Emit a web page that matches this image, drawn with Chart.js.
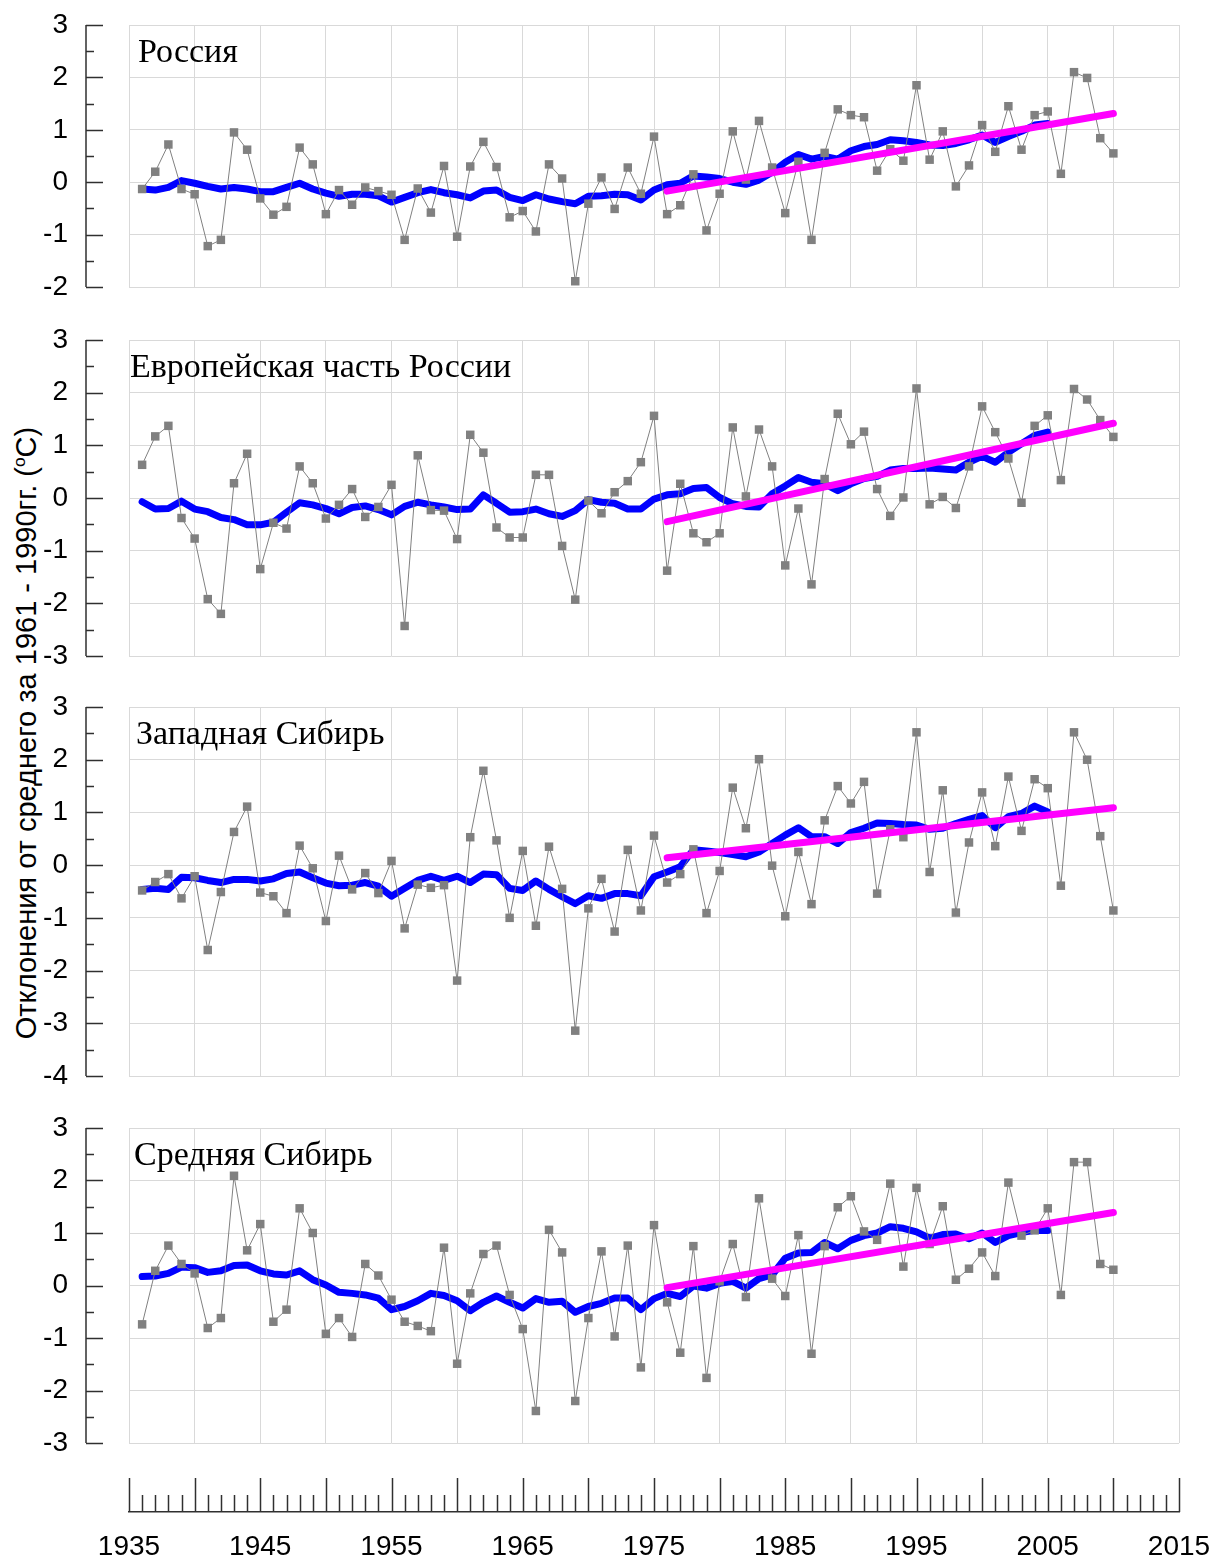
<!DOCTYPE html>
<html>
<head>
<meta charset="utf-8">
<script src="https://cdn.jsdelivr.net/npm/chart.js@4.4.0/dist/chart.umd.min.js"></script>
<style>
  body { margin: 0; background: #fff; width: 1216px; height: 1562px; position: relative; overflow: hidden; }
  canvas { position: absolute; left: 0; }
  .title { position: absolute; font-family: "Liberation Serif", "Times New Roman", serif; font-size: 34px; line-height: 34px; color: #000; white-space: nowrap; }
  #ylabel { position: absolute; width: 700px; height: 30px; line-height: 30px; text-align: center;
            font-family: "Liberation Sans", Arial, sans-serif; font-size: 29px; color: #000; white-space: nowrap;
            transform: rotate(-90deg); transform-origin: 50% 50%; }
  #ylabel sup { font-size: 0.6em; }
</style>
</head>
<body>
<div id="ylabel">Отклонения от среднего за 1961 - 1990гг. (<sup>o</sup>C)</div>
<script>
// years of the annual series and of the smoothed curve
const years = Array.from({ length: 75 }, (_, i) => 1936 + i);   // 1936..2010
const smoothYears = years.slice(0, 70);                          // 1936..2005
const trendYears = [1976, 2010];
const axisYears = [1935, 2015];

// Россия
const russiaAnnual = [
  -0.13, 0.20, 0.72, -0.13, -0.23, -1.22, -1.10, 0.95, 0.62, -0.31,
  -0.62, -0.47, 0.66, 0.34, -0.61, -0.15, -0.43, -0.10, -0.17, -0.24,
  -1.10, -0.12, -0.58, 0.31, -1.04, 0.30, 0.77, 0.29, -0.67, -0.55,
  -0.94, 0.34, 0.07, -1.89, -0.41, 0.09, -0.51, 0.28, -0.22, 0.87,
  -0.61, -0.44, 0.15, -0.92, -0.22, 0.97, 0.05, 1.17, 0.28, -0.59,
  0.39, -1.10, 0.56, 1.39, 1.28, 1.24, 0.22, 0.63, 0.41, 1.85,
  0.43, 0.97, -0.08, 0.32, 1.09, 0.58, 1.45, 0.62, 1.28, 1.35,
  0.16, 2.10, 1.99, 0.84, 0.55
];
const russiaSmooth = [
  -0.13, -0.15, -0.10, 0.03, -0.02, -0.08, -0.13, -0.10, -0.13, -0.18,
  -0.18, -0.10, -0.02, -0.13, -0.21, -0.27, -0.23, -0.23, -0.26, -0.38,
  -0.29, -0.20, -0.14, -0.20, -0.24, -0.30, -0.17, -0.15, -0.29, -0.35,
  -0.24, -0.32, -0.37, -0.41, -0.27, -0.26, -0.23, -0.24, -0.34, -0.15,
  -0.05, -0.02, 0.12, 0.10, 0.07, 0.00, -0.04, 0.04, 0.19, 0.38,
  0.53, 0.44, 0.49, 0.44, 0.60, 0.68, 0.72, 0.81, 0.79, 0.76,
  0.71, 0.70, 0.74, 0.81, 0.90, 0.76, 0.87, 0.97, 1.09, 1.12
];
const russiaTrend = [-0.17, 1.31];

// Европейская часть России
const europeAnnual = [
  0.63, 1.17, 1.37, -0.38, -0.77, -1.92, -2.20, 0.28, 0.84, -1.35,
  -0.47, -0.58, 0.60, 0.28, -0.39, -0.13, 0.17, -0.36, -0.17, 0.25,
  -2.43, 0.81, -0.23, -0.24, -0.78, 1.20, 0.86, -0.56, -0.75, -0.75,
  0.44, 0.44, -0.91, -1.93, -0.05, -0.29, 0.11, 0.32, 0.68, 1.56,
  -1.38, 0.27, -0.67, -0.84, -0.67, 1.34, 0.03, 1.30, 0.60, -1.28,
  -0.20, -1.64, 0.36, 1.60, 1.02, 1.26, 0.17, -0.34, 0.01, 2.08,
  -0.12, 0.02, -0.19, 0.60, 1.74, 1.25, 0.75, -0.09, 1.37, 1.57,
  0.34, 2.07, 1.87, 1.48, 1.16
];
const europeSmooth = [
  -0.07, -0.21, -0.20, -0.06, -0.21, -0.26, -0.37, -0.41, -0.51, -0.51,
  -0.46, -0.27, -0.09, -0.13, -0.20, -0.30, -0.18, -0.15, -0.22, -0.32,
  -0.16, -0.08, -0.13, -0.17, -0.22, -0.21, 0.06, -0.10, -0.27, -0.26,
  -0.21, -0.30, -0.35, -0.24, -0.03, -0.08, -0.10, -0.21, -0.21, -0.02,
  0.06, 0.08, 0.18, 0.20, 0.01, -0.11, -0.16, -0.17, 0.08, 0.23,
  0.39, 0.30, 0.27, 0.14, 0.27, 0.37, 0.41, 0.53, 0.56, 0.56,
  0.57, 0.55, 0.53, 0.68, 0.79, 0.68, 0.87, 1.03, 1.19, 1.25
];
const europeTrend = [-0.45, 1.42];

// Западная Сибирь
const westSibAnnual = [
  -0.48, -0.32, -0.17, -0.63, -0.21, -1.61, -0.51, 0.63, 1.11, -0.52,
  -0.59, -0.91, 0.37, -0.06, -1.06, 0.18, -0.46, -0.15, -0.53, 0.08,
  -1.20, -0.37, -0.43, -0.38, -2.19, 0.53, 1.79, 0.47, -1.00, 0.27,
  -1.15, 0.35, -0.45, -3.14, -0.82, -0.26, -1.26, 0.29, -0.86, 0.56,
  -0.33, -0.17, 0.30, -0.91, -0.11, 1.47, 0.70, 2.01, -0.01, -0.97,
  0.25, -0.74, 0.85, 1.50, 1.17, 1.58, -0.54, 0.68, 0.53, 2.52,
  -0.13, 1.42, -0.90, 0.43, 1.38, 0.36, 1.68, 0.65, 1.63, 1.46,
  -0.39, 2.52, 2.00, 0.55, -0.86
];
const westSibSmooth = [
  -0.46, -0.44, -0.46, -0.23, -0.24, -0.29, -0.33, -0.27, -0.27, -0.30,
  -0.26, -0.16, -0.13, -0.24, -0.34, -0.39, -0.38, -0.33, -0.40, -0.59,
  -0.44, -0.29, -0.21, -0.29, -0.21, -0.33, -0.17, -0.18, -0.44, -0.48,
  -0.30, -0.46, -0.60, -0.73, -0.58, -0.63, -0.54, -0.54, -0.58, -0.22,
  -0.13, -0.03, 0.29, 0.27, 0.24, 0.20, 0.16, 0.25, 0.41, 0.57,
  0.71, 0.54, 0.54, 0.41, 0.62, 0.70, 0.80, 0.79, 0.77, 0.76,
  0.68, 0.70, 0.79, 0.87, 0.94, 0.71, 0.92, 0.98, 1.12, 1.01
];
const westSibTrend = [0.14, 1.09];

// Средняя Сибирь
const midSibAnnual = [
  -0.74, 0.28, 0.76, 0.41, 0.23, -0.81, -0.62, 2.09, 0.67, 1.17,
  -0.69, -0.46, 1.47, 1.00, -0.92, -0.62, -0.98, 0.41, 0.19, -0.27,
  -0.69, -0.77, -0.87, 0.72, -1.49, -0.15, 0.60, 0.76, -0.18, -0.83,
  -2.39, 1.06, 0.63, -2.20, -0.62, 0.65, -0.97, 0.76, -1.56, 1.15,
  -0.32, -1.28, 0.75, -1.76, 0.08, 0.79, -0.22, 1.66, 0.13, -0.20,
  0.96, -1.30, 0.75, 1.49, 1.70, 1.03, 0.87, 1.94, 0.36, 1.86,
  0.79, 1.51, 0.11, 0.32, 0.63, 0.18, 1.96, 0.95, 1.05, 1.47,
  -0.18, 2.35, 2.35, 0.41, 0.30
];
const midSibSmooth = [
  0.17, 0.18, 0.23, 0.35, 0.34, 0.25, 0.28, 0.38, 0.39, 0.28,
  0.22, 0.20, 0.28, 0.11, 0.01, -0.13, -0.15, -0.18, -0.24, -0.46,
  -0.40, -0.29, -0.15, -0.19, -0.29, -0.48, -0.32, -0.20, -0.32, -0.43,
  -0.25, -0.32, -0.30, -0.51, -0.40, -0.34, -0.24, -0.24, -0.46, -0.25,
  -0.15, -0.21, -0.01, -0.05, 0.04, 0.08, -0.05, 0.13, 0.20, 0.52,
  0.62, 0.63, 0.82, 0.70, 0.86, 0.95, 1.00, 1.12, 1.09, 1.02,
  0.90, 0.97, 0.98, 0.89, 1.00, 0.82, 0.95, 1.01, 1.05, 1.05
];
const midSibTrend = [-0.04, 1.39];

const panels = [
  { title: 'Россия', annual: russiaAnnual, smooth: russiaSmooth, trend: russiaTrend, min: -2, max: 3, top: 25, bottom: 287, titleX: 138 },
  { title: 'Европейская часть России', annual: europeAnnual, smooth: europeSmooth, trend: europeTrend, min: -3, max: 3, top: 340, bottom: 656, titleX: 130 },
  { title: 'Западная Сибирь', annual: westSibAnnual, smooth: westSibSmooth, trend: westSibTrend, min: -4, max: 3, top: 707, bottom: 1076, titleX: 136 },
  { title: 'Средняя Сибирь', annual: midSibAnnual, smooth: midSibSmooth, trend: midSibTrend, min: -3, max: 3, top: 1128, bottom: 1443, titleX: 134 }
];

const PAD = 20;
const PLOT_LEFT = 129;
const PLOT_RIGHT = 1179;
const AXIS_X = 86;
const tickFont = { family: 'Liberation Sans', size: 28 };

Chart.defaults.font.family = 'Liberation Sans';

function toXY(xs, ys) {
  return ys.map((y, i) => ({ x: xs[i], y: y }));
}

// y axis drawn apart from the plot, with ticks pointing to the right
const sideAxis = {
  id: 'sideAxis',
  afterDraw(chart) {
    const ys = chart.scales.y;
    const ctx = chart.ctx;
    ctx.save();
    ctx.strokeStyle = '#303030';
    ctx.lineWidth = 1.5;
    ctx.beginPath();
    ctx.moveTo(AXIS_X, ys.getPixelForValue(ys.max));
    ctx.lineTo(AXIS_X, ys.getPixelForValue(ys.min));
    for (let v = ys.min; v <= ys.max; v += 0.5) {
      const py = Math.round(ys.getPixelForValue(v)) + 0.5;
      ctx.moveTo(AXIS_X, py);
      ctx.lineTo(AXIS_X + (Number.isInteger(v) ? 17 : 8), py);
    }
    ctx.stroke();
    ctx.restore();
  }
};

// year ticks standing up from the bottom axis line
const yearTicks = {
  id: 'yearTicks',
  afterDraw(chart) {
    const xs = chart.scales.x;
    const ctx = chart.ctx;
    const base = chart.chartArea.bottom;
    ctx.save();
    ctx.strokeStyle = '#303030';
    ctx.lineWidth = 1.5;
    ctx.beginPath();
    xs.ticks.forEach(t => {
      const px = Math.round(xs.getPixelForValue(t.value)) + 0.5;
      ctx.moveTo(px, base);
      ctx.lineTo(px, base - (t.value % 5 === 0 ? 34 : 17));
    });
    ctx.stroke();
    ctx.restore();
  }
};

panels.forEach(p => {
  const canvas = document.createElement('canvas');
  const h = p.bottom - p.top + 2 * PAD;
  canvas.width = 1216;
  canvas.height = h;
  canvas.style.top = (p.top - PAD) + 'px';
  document.body.appendChild(canvas);

  new Chart(canvas, {
    type: 'line',
    data: {
      datasets: [
        {
          label: 'Тренд 1976-2010',
          data: toXY(trendYears, p.trend),
          borderColor: '#ff00ff',
          borderWidth: 7,
          borderCapStyle: 'round',
          pointRadius: 0
        },
        {
          label: 'Годовые аномалии',
          data: toXY(years, p.annual),
          borderColor: '#808080',
          borderWidth: 1,
          pointStyle: 'rect',
          pointRadius: 6,
          pointBackgroundColor: '#808080',
          pointBorderWidth: 0
        },
        {
          label: 'Сглаженные',
          data: toXY(smoothYears, p.smooth),
          borderColor: '#0000ff',
          borderWidth: 7,
          borderJoinStyle: 'round',
          borderCapStyle: 'round',
          pointRadius: 0
        }
      ]
    },
    options: {
      responsive: false,
      animation: false,
      events: [],
      layout: { padding: { top: PAD, bottom: PAD, left: 0, right: 1216 - PLOT_RIGHT } },
      plugins: { legend: { display: false }, tooltip: { enabled: false } },
      scales: {
        x: {
          type: 'linear',
          min: axisYears[0],
          max: axisYears[1],
          ticks: { display: false, stepSize: 5 },
          grid: { color: '#d9d9d9', drawTicks: false },
          border: { display: false },
          afterFit: s => { s.height = 0; s.paddingLeft = 0; s.paddingRight = 0; }
        },
        y: {
          min: p.min,
          max: p.max,
          ticks: { stepSize: 1, color: '#000', font: tickFont, padding: 61 },
          grid: { color: '#d9d9d9', drawTicks: false },
          border: { display: false },
          // keep the label offset from pushing the plot area down
          afterFit: s => { s.width = PLOT_LEFT; s.paddingTop = 0; s.paddingBottom = 0; }
        }
      }
    },
    plugins: [sideAxis]
  });

  const t = document.createElement('div');
  t.className = 'title';
  t.textContent = p.title;
  t.style.left = p.titleX + 'px';
  t.style.top = (p.top + 9) + 'px';
  document.body.appendChild(t);
});

// shared year axis at the bottom
const axisCanvas = document.createElement('canvas');
axisCanvas.width = 1216;
axisCanvas.height = 98;
axisCanvas.style.top = '1464px';
document.body.appendChild(axisCanvas);

new Chart(axisCanvas, {
  type: 'line',
  data: { datasets: [] },
  options: {
    responsive: false,
    animation: false,
    events: [],
    layout: { padding: { top: 14, bottom: 0, left: PLOT_LEFT, right: 1216 - PLOT_RIGHT } },
    plugins: { legend: { display: false }, tooltip: { enabled: false } },
    scales: {
      x: {
        type: 'linear',
        min: axisYears[0],
        max: axisYears[1],
        ticks: {
          stepSize: 1,
          autoSkip: false,
          maxRotation: 0,
          color: '#000',
          font: tickFont,
          padding: 18,
          callback: v => (v % 10 === 5 ? String(v) : '')
        },
        grid: { display: false, drawTicks: false },
        border: { display: true, color: '#303030', width: 1.5 },
        afterFit: s => { s.height = 50; s.paddingLeft = 0; s.paddingRight = 0; }
      },
      y: { display: false, min: 0, max: 1 }
    }
  },
  plugins: [yearTicks]
});

// rotated y-axis title centred on the four panels
const yl = document.getElementById('ylabel');
yl.style.left = (19 - 350) + 'px';
yl.style.top = (733 - 15) + 'px';
</script>
</body>
</html>
